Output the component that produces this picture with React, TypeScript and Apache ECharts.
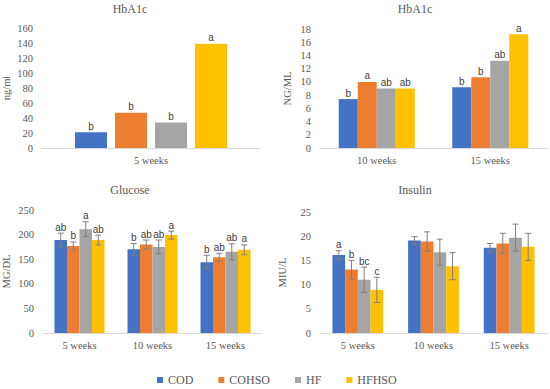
import React, { useEffect, useRef } from "react";
import * as echarts from "echarts";

const groups = ["COD", "COHSO", "HF", "HFHSO"];
const colors = ["#4472C4", "#ED7D31", "#A5A5A5", "#FFC000"];

const hbaCats1 = ["5 weeks"];
const hbaVals1 = [[21], [47], [34], [139]];
const hbaLetters1 = [["b"], ["b"], ["b"], ["a"]];

const hbaCats2 = ["10 weeks", "15 weeks"];
const hbaVals2 = [
  [7.4, 9.2],
  [10.0, 10.7],
  [9.0, 13.2],
  [9.0, 17.2],
];
const hbaLetters2 = [
  ["b", "b"],
  ["a", "b"],
  ["ab", "ab"],
  ["ab", "a"],
];

const weekCats = ["5 weeks", "10 weeks", "15 weeks"];
const gluVals = [
  [189, 170, 144],
  [177, 180, 154],
  [211, 175, 165],
  [189, 199, 169],
];
const gluErr = [
  [14, 12, 14],
  [8, 9, 8],
  [15, 14, 16],
  [10, 8, 10],
];
const gluLetters = [
  ["ab", "b", "b"],
  ["b", "ab", "ab"],
  ["a", "ab", "ab"],
  ["ab", "a", "a"],
];

const insVals = [
  [16.1, 19.1, 17.6],
  [13.1, 18.9, 18.5],
  [11.0, 16.7, 19.7],
  [8.9, 13.8, 17.8],
];
const insErr = [
  [0.9, 0.8, 0.9],
  [1.9, 2.0, 2.1],
  [2.6, 2.7, 2.8],
  [2.6, 2.8, 2.8],
];
const insLetters = [
  ["a", "", ""],
  ["b", "", ""],
  ["bc", "", ""],
  ["c", "", ""],
];

const SERIF = "Liberation Serif";
const SANS = "Liberation Sans";
const TXT = "#595959";
const LETTER = "#404040";

function buildOption() {
  const grids = [
    { left: 38, width: 222, top: 28, height: 120 },
    { left: 320, width: 227, top: 29, height: 119 },
    { left: 38, width: 224, top: 210, height: 123 },
    { left: 320, width: 227, top: 212, height: 121 },
  ];
  const cats = [hbaCats1, hbaCats2, weekCats, weekCats];
  const yCfg = [
    { max: 160, interval: 20, name: "ng/ml", gap: 30 },
    { max: 18, interval: 2, name: "NG/ML", gap: 27 },
    { max: 250, interval: 50, name: "MG/DL", gap: 31 },
    { max: 25, interval: 5, name: "MIU/L", gap: 32 },
  ];
  const xAxis = cats.map((c, i) => ({
    type: "category",
    gridIndex: i,
    data: c,
    axisLine: { show: true, lineStyle: { color: "#D9D9D9", width: 1 } },
    axisTick: { show: false },
    axisLabel: { color: TXT, fontFamily: SERIF, fontSize: 10.5, margin: 7 },
    splitLine: { show: false },
  }));
  const yAxis = yCfg.map((y, i) => ({
    type: "value",
    gridIndex: i,
    min: 0,
    max: y.max,
    interval: y.interval,
    name: y.name,
    nameLocation: "middle",
    nameGap: y.gap,
    nameRotate: 90,
    nameTextStyle: { color: TXT, fontFamily: SERIF, fontSize: 10.5 },
    axisLine: { show: false },
    axisTick: { show: false },
    splitLine: { show: false },
    axisLabel: { color: TXT, fontFamily: SERIF, fontSize: 10.5, margin: 9 },
  }));

  const series: any[] = [];
  const barCfg = [
    { vals: hbaVals1, letters: hbaLetters1, w: 32, gap: "25%" },
    { vals: hbaVals2, letters: hbaLetters2, w: 19, gap: "0%" },
    { vals: gluVals, letters: null, w: 12.5, gap: "0%" },
    { vals: insVals, letters: null, w: 12.7, gap: "0%" },
  ];
  barCfg.forEach((cfg, gi) => {
    groups.forEach((g, si) => {
      const s: any = {
        type: "bar",
        name: g,
        xAxisIndex: gi,
        yAxisIndex: gi,
        data: cfg.vals[si],
        barWidth: cfg.w,
        barGap: cfg.gap,
        itemStyle: { color: colors[si] },
      };
      if (cfg.letters) {
        const L = cfg.letters[si];
        s.label = {
          show: true,
          position: "top",
          distance: 1,
          formatter: (p: any) => L[p.dataIndex],
          color: LETTER,
          fontFamily: SANS,
          fontSize: 10,
        };
      }
      series.push(s);
    });
  });

  const errCfg = [
    { gi: 2, vals: gluVals, err: gluErr, letters: gluLetters, w: 12.5 },
    { gi: 3, vals: insVals, err: insErr, letters: insLetters, w: 12.7 },
  ];
  errCfg.forEach((cfg) => {
    const items: any[] = [];
    const labels: string[] = [];
    groups.forEach((g, si) => {
      cfg.vals[si].forEach((v, ci) => {
        items.push([ci, si, v, cfg.err[si][ci]]);
        labels.push(cfg.letters[si][ci]);
      });
    });
    series.push({
      type: "custom",
      xAxisIndex: cfg.gi,
      yAxisIndex: cfg.gi,
      data: items,
      encode: { x: 0, y: 2 },
      z: 5,
      renderItem: (params: any, api: any) => {
        const ci = api.value(0);
        const si = api.value(1);
        const v = api.value(2);
        const e = api.value(3);
        const off = (si - 1.5) * cfg.w;
        const top = api.coord([ci, v + e]);
        const bot = api.coord([ci, v - e]);
        const x = top[0] + off;
        const cap = 3;
        const st = { stroke: "#7F7F7F", lineWidth: 1 };
        const children: any[] = [
          { type: "line", shape: { x1: x, y1: top[1], x2: x, y2: bot[1] }, style: st },
          { type: "line", shape: { x1: x - cap, y1: top[1], x2: x + cap, y2: top[1] }, style: st },
          { type: "line", shape: { x1: x - cap, y1: bot[1], x2: x + cap, y2: bot[1] }, style: st },
        ];
        const lab = labels[params.dataIndex];
        if (lab) {
          children.push({
            type: "text",
            x: x,
            y: top[1] - 1,
            style: {
              text: lab,
              align: "center",
              verticalAlign: "bottom",
              fill: LETTER,
              fontFamily: SANS,
              fontSize: 10,
            },
          });
        }
        return { type: "group", children };
      },
    });
  });

  const titles = [
    { t: "HbA1c", x: 130, y: 9 },
    { t: "HbA1c", x: 415, y: 9 },
    { t: "Glucose", x: 130, y: 190 },
    { t: "Insulin", x: 415, y: 190 },
  ];

  return {
    animation: false,
    backgroundColor: "#ffffff",
    grid: grids,
    xAxis,
    yAxis,
    series,
    legend: {
      data: groups,
      left: 157,
      top: 374,
      padding: 0,
      icon: "rect",
      itemWidth: 6,
      itemHeight: 6,
      itemGap: 25,
      textStyle: { color: TXT, fontFamily: SERIF, fontSize: 12 },
    },
    graphic: titles.map((t) => ({
      type: "text",
      x: t.x,
      y: t.y,
      style: {
        text: t.t,
        align: "center",
        verticalAlign: "middle",
        fill: TXT,
        fontFamily: SERIF,
        fontSize: 12,
      },
    })),
  };
}

export default function App() {
  const ref = useRef<HTMLDivElement>(null);
  useEffect(() => {
    if (!ref.current) return;
    const chart = echarts.init(ref.current, undefined, { renderer: "svg" });
    chart.setOption(buildOption() as any);
    return () => chart.dispose();
  }, []);
  return (
    <div
      ref={ref}
      style={{ width: 550, height: 389, position: "absolute", left: 0, top: 0 }}
    />
  );
}
